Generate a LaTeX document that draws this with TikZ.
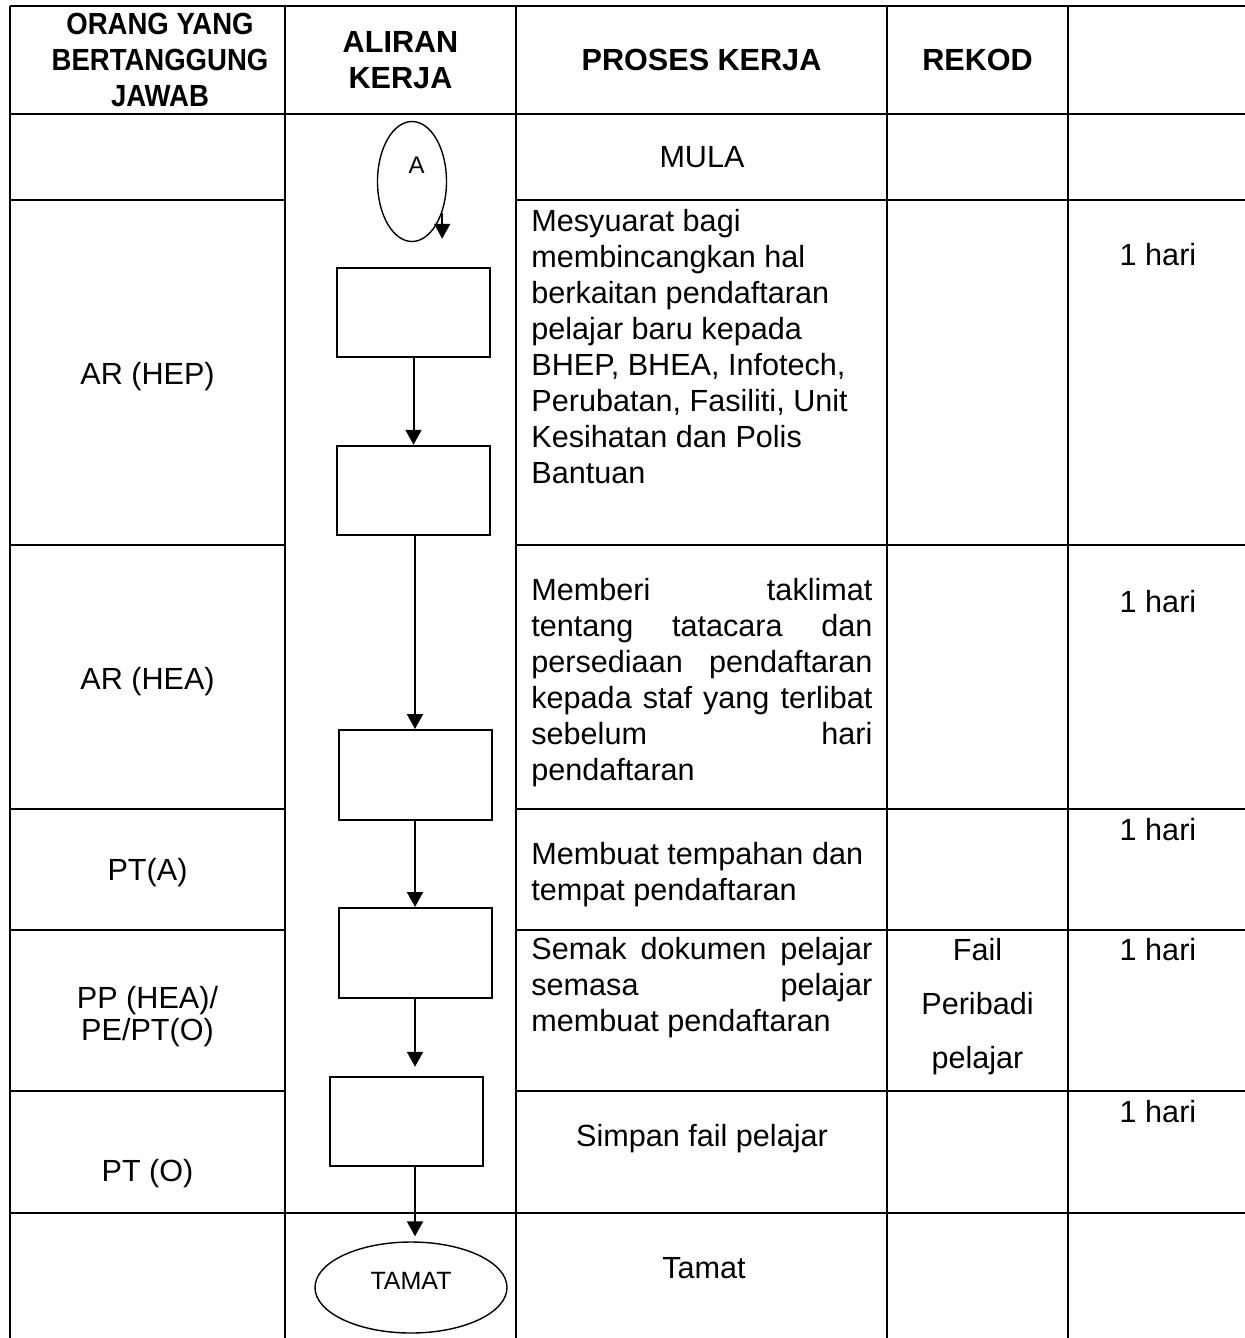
\documentclass[tikz,border=0pt]{standalone}
\usepackage{fontspec}
\setmainfont{Liberation Sans}
\newfontfamily\narrowfont[FakeStretch=0.9]{Liberation Sans}
\usetikzlibrary{shapes.geometric,arrows.meta}
\newcommand{\jline}[1]{\makebox[170.5pt][s]{#1}}

\begin{document}
\begin{tikzpicture}[x=0.5pt,y=-0.5pt,
    grid/.style={line width=0.7pt},
    txt/.style={inner sep=0pt,font=\fontsize{15.3}{18}\selectfont},
    head/.style={inner sep=0pt,font=\bfseries\fontsize{15.3}{18}\selectfont,align=center},
    box/.style={draw,line width=1pt,minimum width=76.5pt,minimum height=44.75pt},
    oval/.style={draw,ellipse,line width=0.7pt,inner sep=2pt},
    arr/.style={-{Triangle[length=7.5pt,width=8pt]},line width=1pt}
]
\useasboundingbox (0,0) rectangle (1245,1338);

% table lines
\foreach \x in {10,285,516,887,1068} {
    \draw[grid] (\x,6) -- (\x,1338);
}
\foreach \y in {6,114,1213} {
    \draw[grid] (10,\y) -- (1245,\y);
}
\foreach \y in {200,545,809,930,1091} {
    \draw[grid] (10,\y) -- (285,\y);
    \draw[grid] (516,\y) -- (1245,\y);
}

% header row
\node[head,anchor=north,font=\narrowfont\bfseries\fontsize{15.3}{18}\selectfont] (hOrang) at (160,13) {ORANG YANG\\BERTANGGUNG\\JAWAB};
\node[head,anchor=north] (hAliran) at (400.5,31) {ALIRAN\\KERJA};
\node[head,anchor=base] (hProses) at (701.5,71) {PROSES KERJA};
\node[head,anchor=base] (hRekod) at (977.5,71) {REKOD};

% flow chart
\node[oval,minimum width=34.5pt,minimum height=60pt,font=\fontsize{12}{14}\selectfont,text depth=15.8pt] (mula) at (412,181.5) {\hspace*{4.5pt}A};
\node[box] (b1) at (413.5,312.5) {};
\node[box] (b2) at (413.5,490.5) {};
\node[box,minimum height=45pt] (b3) at (415,775) {};
\node[box,minimum height=45pt] (b4) at (415,953) {};
\node[box] (b5) at (406.5,1121.5) {};
\node[oval,minimum width=96pt,minimum height=45.5pt,font=\fontsize{12.5}{14}\selectfont,text depth=7pt] (tamat) at (411,1287.5) {TAMAT};

\draw[arr] (mula.-46) -- ++(0,26);
\draw[arr] (b1) -- (b2);
\draw[arr] (b2.south -| b3.north) -- (b3.north);
\draw[arr] (b3) -- (b4);
\draw[arr,shorten >=4.5pt] (b4.south) -- (b4.south |- b5.north);
\draw[arr,shorten >=2.5pt] (b5.south -| b4.south) -- (b4.south |- tamat.north);

% orang yang bertanggungjawab
\node[txt,anchor=base] (oHep) at (147.5,384) {AR (HEP)};
\node[txt,anchor=base] (oHea) at (147.5,689) {AR (HEA)};
\node[txt,anchor=base] (oPta) at (147.5,880) {PT(A)};
\node[txt,anchor=north,align=center] (oPp) at (147.5,986) {PP (HEA)/\\[-2pt]PE/PT(O)};
\node[txt,anchor=base] (oPto) at (147.5,1181) {PT (O)};

% proses kerja
\node[txt,anchor=base] (pMula) at (702,168) {MULA};
\node[txt,anchor=north west,align=left] (pHep) at (531,209) {Mesyuarat bagi\\membincangkan hal\\berkaitan pendaftaran\\pelajar baru kepada\\BHEP, BHEA, Infotech,\\Perubatan, Fasiliti, Unit\\Kesihatan dan Polis\\Bantuan};
\node[txt,anchor=north west,align=left] (pHea) at (531,578) {\jline{Memberi taklimat}\\\jline{tentang tatacara dan}\\\jline{persediaan pendaftaran}\\\jline{kepada staf yang terlibat}\\\jline{sebelum hari}\\pendaftaran};
\node[txt,anchor=north west,align=left] (pPta) at (531,842) {Membuat tempahan dan\\tempat pendaftaran};
\node[txt,anchor=north west,align=left] (pPp) at (531,937) {\jline{Semak dokumen pelajar}\\\jline{semasa pelajar}\\membuat pendaftaran};
\node[txt,anchor=base] (pPto) at (702,1146) {Simpan fail pelajar};
\node[txt,anchor=base] (pTamat) at (704,1278) {Tamat};

% rekod
\node[txt,anchor=north,align=center,font=\fontsize{15.3}{27}\selectfont] (rFail) at (977.5,938) {Fail\\Peribadi\\pelajar};

% tempoh
\foreach \y [count=\i] in {265,612,840,960,1122} {
    \node[txt,anchor=base] (hari\i) at (1158,\y) {1 hari};
}
\end{tikzpicture}
\end{document}
